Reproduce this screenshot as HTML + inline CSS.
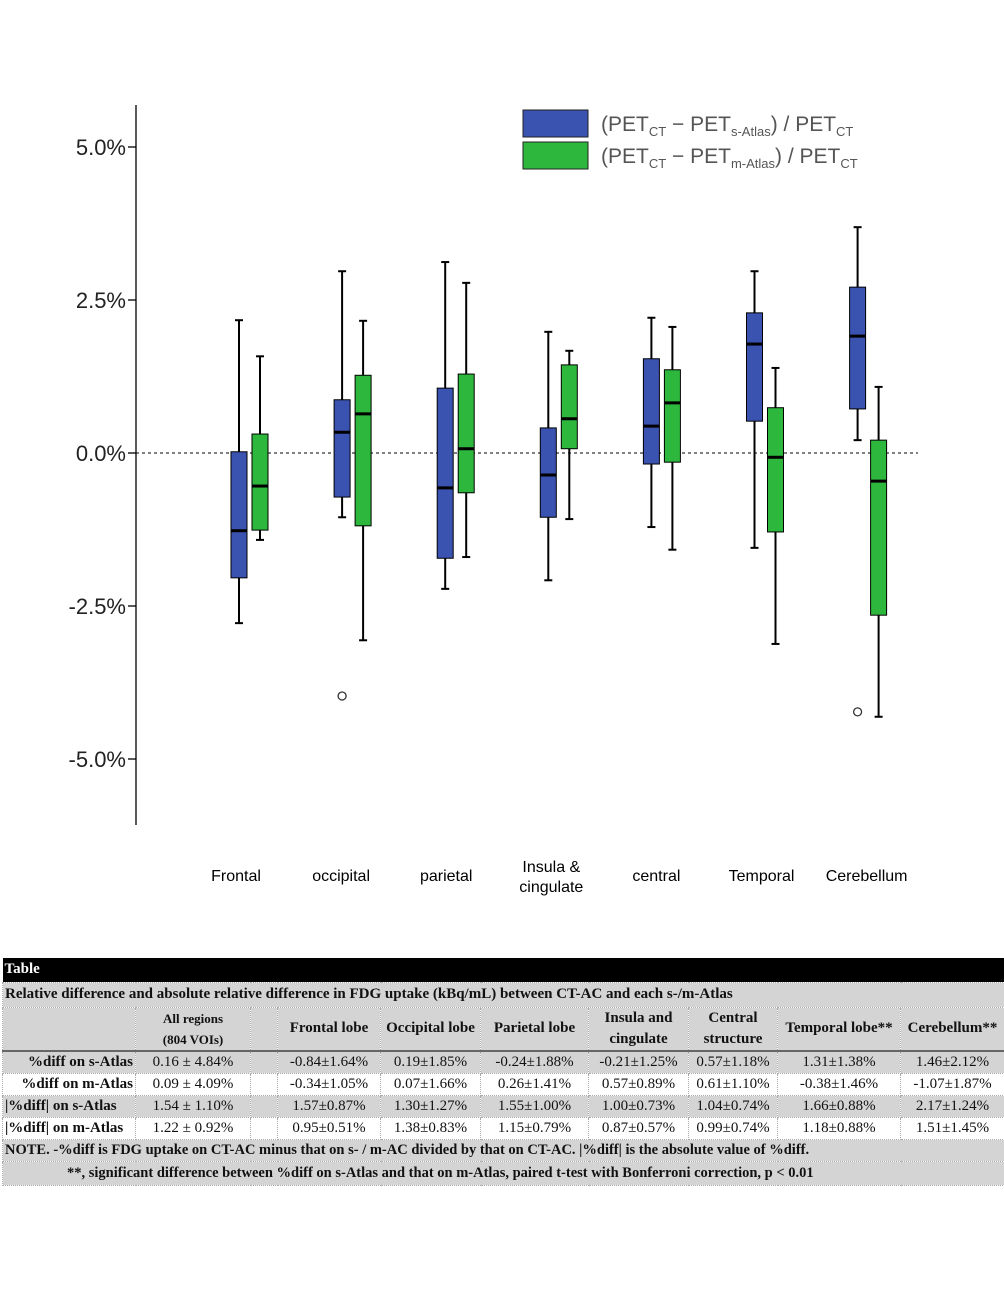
<!DOCTYPE html>
<html><head><meta charset="utf-8"><style>
body{margin:0;width:1004px;height:1299px;background:#fff;position:relative;overflow:hidden;font-family:"Liberation Sans",sans-serif}
#chart{position:absolute;left:0;top:0}
table{position:absolute;left:2px;top:958px;width:1002px;border-collapse:collapse;font-family:"Liberation Serif",serif;font-size:15px;color:#111;table-layout:fixed}
td{border:1px dotted #aaa;padding:0 2px;text-align:center;white-space:nowrap;overflow:hidden}
.g td{background:#d4d4d4}.w td{background:#fff}
.b{font-weight:bold}
</style></head><body>
<svg id="chart" width="1004" height="950" xmlns="http://www.w3.org/2000/svg"></svg>
<table>
<colgroup><col style="width:133px"><col style="width:115px"><col style="width:27px"><col style="width:103px"><col style="width:100px"><col style="width:108px"><col style="width:100px"><col style="width:89px"><col style="width:123px"><col style="width:104px"></colgroup>
<tr style="height:24px;background:#000;color:#fff"><td colspan="10" class="b" style="text-align:left;background:#000;border:none;font-size:15px">Table</td></tr>
<tr class="g" style="height:25px"><td colspan="10" class="b" style="text-align:left;font-size:15px">Relative difference and absolute relative difference in FDG uptake (kBq/mL) between CT-AC and each s-/m-Atlas</td></tr>
<tr class="g b" style="height:44px;border-bottom:2px solid #666"><td></td><td style="font-size:13px;line-height:21px">All regions<br>(804 VOIs)</td><td></td><td>Frontal lobe</td><td>Occipital lobe</td><td>Parietal lobe</td><td style="line-height:21px">Insula and<br>cingulate</td><td style="line-height:21px">Central<br>structure</td><td>Temporal lobe**</td><td>Cerebellum**</td></tr>
<tr class="g" style="height:22px"><td class="b" style="text-align:right">%diff on s-Atlas</td><td>0.16 ± 4.84%</td><td></td><td>-0.84±1.64%</td><td>0.19±1.85%</td><td>-0.24±1.88%</td><td>-0.21±1.25%</td><td>0.57±1.18%</td><td>1.31±1.38%</td><td>1.46±2.12%</td></tr>
<tr class="w" style="height:22px"><td class="b" style="text-align:right">%diff on m-Atlas</td><td>0.09 ± 4.09%</td><td></td><td>-0.34±1.05%</td><td>0.07±1.66%</td><td>0.26±1.41%</td><td>0.57±0.89%</td><td>0.61±1.10%</td><td>-0.38±1.46%</td><td>-1.07±1.87%</td></tr>
<tr class="g" style="height:22px"><td class="b" style="text-align:left">|%diff| on s-Atlas</td><td>1.54 ± 1.10%</td><td></td><td>1.57±0.87%</td><td>1.30±1.27%</td><td>1.55±1.00%</td><td>1.00±0.73%</td><td>1.04±0.74%</td><td>1.66±0.88%</td><td>2.17±1.24%</td></tr>
<tr class="w" style="height:22px"><td class="b" style="text-align:left">|%diff| on m-Atlas</td><td>1.22 ± 0.92%</td><td></td><td>0.95±0.51%</td><td>1.38±0.83%</td><td>1.15±0.79%</td><td>0.87±0.57%</td><td>0.99±0.74%</td><td>1.18±0.88%</td><td>1.51±1.45%</td></tr>
<tr class="g" style="height:22px"><td colspan="10" class="b" style="text-align:left;font-size:14.5px">NOTE. -%diff is FDG uptake on CT-AC minus that on s- / m-AC divided by that on CT-AC. |%diff| is the absolute value of %diff.</td></tr>
<tr class="g" style="height:24px"><td colspan="10" class="b" style="text-align:left;font-size:14.5px;padding-left:64px">**, significant difference between %diff on s-Atlas and that on m-Atlas, paired t-test with Bonferroni correction, p &lt; 0.01</td></tr>
</table>
<script>
const categories=["Frontal","occipital","parietal","Insula &\ncingulate","central","Temporal","Cerebellum"];
const sMin=[-2.78,-1.05,-2.22,-2.08,-1.21,-1.55,0.21];
const sQ1=[-2.04,-0.72,-1.72,-1.05,-0.18,0.52,0.72];
const sMed=[-1.27,0.34,-0.57,-0.36,0.44,1.78,1.91];
const sQ3=[0.02,0.87,1.06,0.41,1.54,2.29,2.71];
const sMax=[2.17,2.97,3.12,1.98,2.21,2.97,3.69];
const mMin=[-1.42,-3.06,-1.70,-1.08,-1.58,-3.12,-4.31];
const mQ1=[-1.26,-1.19,-0.65,0.07,-0.15,-1.29,-2.65];
const mMed=[-0.54,0.64,0.07,0.56,0.82,-0.07,-0.46];
const mQ3=[0.31,1.27,1.29,1.44,1.36,0.74,0.21];
const mMax=[1.58,2.16,2.78,1.67,2.06,1.39,1.08];
const sOutliers=[[1,-3.97],[6,-4.23]];
const mOutliers=[];
const yTicks=[5,2.5,0,-2.5,-5];
const yTickLabels=["5.0%","2.5%","0.0%","-2.5%","-5.0%"];
const svg=document.getElementById('chart');const NS="http://www.w3.org/2000/svg";
const y=v=>453-v*61.2;
const xc=i=>250+i*103.1;
function mk(t,a,p){const e=document.createElementNS(NS,t);for(const k in a)e.setAttribute(k,a[k]);(p||svg).appendChild(e);return e;}
let ax=mk('line',{x1:136,y1:105,x2:136,y2:825,stroke:'#000','stroke-width':1.3});


yTicks.forEach((t,i)=>{
 let l=mk('line',{x1:128,x2:136,y1:y(t),y2:y(t),stroke:'#000','stroke-width':1.3});
 
 
 let tx=mk('text',{x:126,y:y(t)+8,'text-anchor':'end','font-size':22,fill:'#222'});tx.textContent=yTickLabels[i];
 
 
});
let z=mk('line',{x1:136,x2:918,y1:y(0),y2:y(0),stroke:'#000','stroke-dasharray':'3,3','stroke-width':1});


function box(cx,mn,q1,md,q3,mx,col,name){
 const g=mk('g',{});
 
 
 mk('line',{x1:cx,x2:cx,y1:y(mx),y2:y(q3),stroke:'#000','stroke-width':2},g);
 mk('line',{x1:cx,x2:cx,y1:y(q1),y2:y(mn),stroke:'#000','stroke-width':2},g);
 mk('line',{x1:cx-4,x2:cx+4,y1:y(mx),y2:y(mx),stroke:'#000','stroke-width':2},g);
 mk('line',{x1:cx-4,x2:cx+4,y1:y(mn),y2:y(mn),stroke:'#000','stroke-width':2},g);
 mk('rect',{x:cx-8,y:y(q3),width:16,height:y(q1)-y(q3),fill:col,stroke:'#000','stroke-width':1},g);
 mk('line',{x1:cx-8,x2:cx+8,y1:y(md),y2:y(md),stroke:'#000','stroke-width':3},g);
}
categories.forEach((c,i)=>{
 box(xc(i)-11,sMin[i],sQ1[i],sMed[i],sQ3[i],sMax[i],'#3a52b0','box-s-atlas-'+i);
 box(xc(i)+10,mMin[i],mQ1[i],mMed[i],mQ3[i],mMax[i],'#2db83d','box-m-atlas-'+i);
 const lines=c.split('\n');
 lines.forEach((ln,j)=>{
  let t=mk('text',{x:xc(i)-14+(i>0?i*2:0),y:(lines.length>1?872:881)+j*20,'text-anchor':'middle','font-size':16,fill:'#000'});t.textContent=ln;
  
  
 });
});
sOutliers.forEach(o=>{let c=mk('circle',{cx:xc(o[0])-11,cy:y(o[1]),r:4,fill:'#fff',stroke:'#333','stroke-width':1.3});
 
 });
mOutliers.forEach(o=>{let c=mk('circle',{cx:xc(o[0])+10,cy:y(o[1]),r:4,fill:'#fff',stroke:'#333','stroke-width':1.3});
 
 });
[['#3a52b0',110,'s-Atlas'],['#2db83d',142,'m-Atlas']].forEach(([col,yy,sub])=>{
 const g=mk('g',{});
 
 
 mk('rect',{x:523,y:yy,width:65,height:27,fill:col,stroke:'#222','stroke-width':1},g);
 const t=mk('text',{x:601,y:yy+21,'font-size':21,fill:'#555'},g);
 t.innerHTML='(PET<tspan font-size="13" dy="5">CT</tspan><tspan dy="-5"> − PET</tspan><tspan font-size="13" dy="5">'+sub+'</tspan><tspan dy="-5">) / PET</tspan><tspan font-size="13" dy="5">CT</tspan>';
});
</script>
</body></html>
